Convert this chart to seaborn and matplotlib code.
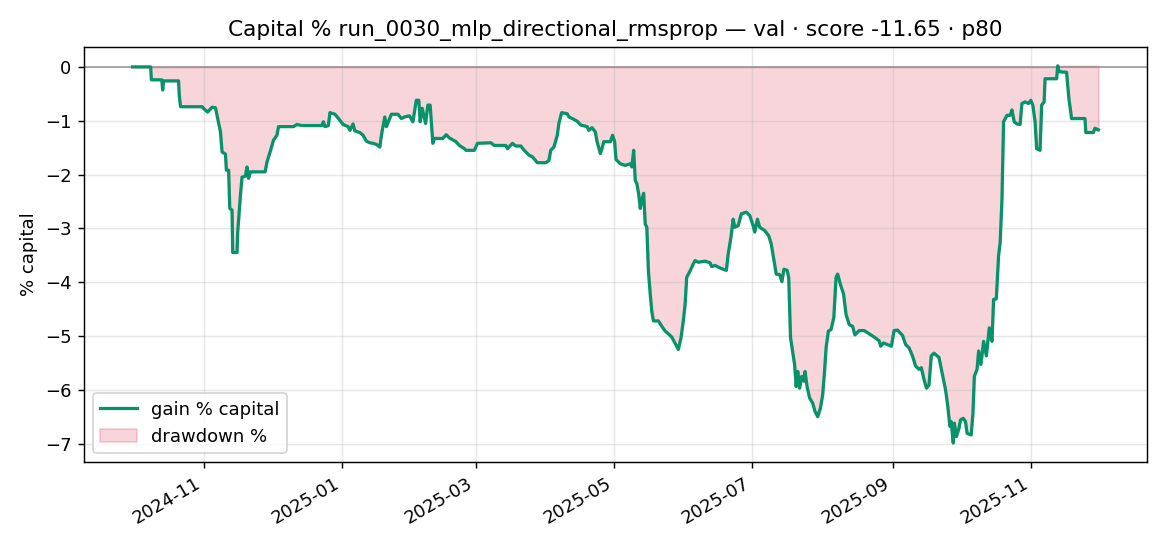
import pandas as pd
import numpy as np
import matplotlib
matplotlib.use("Agg")
import matplotlib.pyplot as plt
import seaborn as sns

# days elapsed since the first bar, and gain % capital
start = pd.Timestamp("2024-09-30 12:00")
days = [0.0, 8.0, 8.3, 12.9, 13.3, 13.7, 20.3, 20.6, 21.2, 30.7,
        31.3, 33.1, 35.1, 36.6, 37.3, 38.8, 39.5, 41.0, 41.4, 42.4,
        42.9, 43.9, 44.2, 46.1, 46.4, 47.6, 48.3, 49.8, 50.5, 51.2,
        52.0, 58.5, 59.3, 60.7, 62.2, 63.7, 64.4, 71.0, 72.5, 74.7,
        83.5, 84.2, 84.9, 86.4, 87.1, 89.3, 90.7, 92.9, 95.1, 95.9,
        97.3, 98.1, 100.3, 101.7, 103.2, 104.7, 106.1, 107.6, 109.1, 109.8,
        111.3, 112.0, 114.2, 117.1, 118.6, 120.0, 122.2, 123.7, 125.2, 126.3,
        126.9, 127.8, 129.3, 130.3, 131.3, 132.5, 133.2, 136.9, 138.4, 139.8,
        142.7, 144.2, 146.4, 147.1, 150.8, 152.2, 158.1, 159.6, 164.7, 165.4,
        167.6, 169.1, 171.3, 172.8, 174.9, 176.4, 178.6, 182.3, 183.7, 184.5,
        185.9, 187.4, 188.1, 189.3, 191.8, 192.5, 194.0, 196.2, 197.7, 200.6,
        201.3, 202.7, 204.2, 204.9, 206.4, 207.1, 207.9, 210.8, 211.8, 212.7,
        213.3, 215.2, 217.4, 219.6, 220.3, 221.1, 221.8, 222.5, 223.3, 224.0,
        224.7, 225.5, 226.2, 226.9, 227.6, 228.4, 229.1, 229.8, 232.0, 233.5,
        235.0, 236.4, 237.9, 239.4, 240.8, 242.0, 243.0, 243.8, 244.5, 246.0,
        247.4, 248.2, 249.6, 252.6, 254.8, 255.5, 257.0, 258.4, 260.6, 262.0,
        262.8, 264.0, 265.0, 265.7, 267.2, 268.6, 270.8, 272.3, 273.8, 274.5,
        275.7, 276.7, 278.9, 280.7, 281.8, 283.0, 284.0, 285.5, 286.5, 287.4,
        288.8, 289.5, 290.3, 292.1, 292.8, 293.5, 294.3, 295.3, 296.2, 296.7,
        297.6, 298.7, 300.1, 301.1, 302.3, 303.5, 304.5, 305.3, 306.0, 307.0,
        308.2, 309.4, 310.4, 311.1, 312.3, 313.7, 314.8, 316.2, 317.7, 318.7,
        320.6, 322.8, 325.0, 327.2, 329.4, 330.1, 331.3, 333.1, 334.8, 336.0,
        337.5, 339.7, 341.1, 342.6, 344.1, 345.5, 347.0, 348.0, 349.2, 350.3,
        351.4, 352.4, 353.6, 355.8, 357.2, 358.7, 359.7, 360.6, 361.2, 362.1,
        362.6, 363.5, 364.6, 365.3, 366.5, 367.5, 368.2, 370.0, 370.8, 371.4,
        372.6, 373.3, 374.3, 375.5, 376.7, 378.0, 379.2, 379.9, 381.1, 382.1,
        382.8, 383.6, 384.3, 385.8, 387.2, 388.0, 389.0, 390.2, 391.6, 392.4,
        393.8, 395.3, 396.3, 397.2, 398.2, 398.9, 400.4, 401.1, 402.2, 402.6,
        407.7, 408.2, 408.9, 412.1, 413.1, 414.3, 420.2, 420.6, 423.9, 424.6,
        426.1]
gain = [0.00, 0.00, -0.24, -0.24, -0.43, -0.26, -0.26, -0.52, -0.74, -0.74,
        -0.77, -0.84, -0.75, -0.76, -0.90, -1.21, -1.58, -1.62, -1.92, -1.92,
        -2.63, -2.66, -3.45, -3.45, -3.07, -2.39, -2.05, -2.03, -1.86, -2.07,
        -1.95, -1.95, -1.77, -1.58, -1.36, -1.27, -1.11, -1.11, -1.07, -1.09,
        -1.09, -1.02, -1.11, -1.09, -0.85, -0.88, -0.95, -1.07, -1.11, -1.18,
        -1.06, -1.19, -1.22, -1.27, -1.38, -1.41, -1.42, -1.44, -1.49, -1.27,
        -0.93, -1.11, -0.88, -0.88, -0.96, -0.93, -0.91, -1.02, -0.62, -0.62,
        -1.02, -0.77, -1.05, -0.71, -0.71, -1.42, -1.33, -1.33, -1.26, -1.32,
        -1.39, -1.46, -1.52, -1.55, -1.55, -1.42, -1.41, -1.46, -1.46, -1.52,
        -1.42, -1.47, -1.47, -1.55, -1.64, -1.67, -1.78, -1.78, -1.74, -1.55,
        -1.49, -1.27, -1.05, -0.85, -0.87, -0.93, -0.96, -1.01, -1.08, -1.11,
        -1.18, -1.13, -1.21, -1.38, -1.61, -1.52, -1.39, -1.39, -1.27, -1.39,
        -1.72, -1.80, -1.83, -1.80, -1.86, -1.55, -2.11, -2.17, -2.36, -2.63,
        -2.47, -2.35, -2.92, -2.98, -3.79, -4.22, -4.54, -4.72, -4.72, -4.82,
        -4.91, -4.96, -5.02, -5.14, -5.25, -5.03, -4.72, -4.41, -3.91, -3.79,
        -3.66, -3.60, -3.63, -3.61, -3.64, -3.71, -3.69, -3.72, -3.76, -3.78,
        -3.48, -3.17, -2.83, -2.98, -2.95, -2.73, -2.70, -2.76, -2.95, -3.07,
        -2.83, -2.98, -3.04, -3.14, -3.29, -3.60, -3.85, -3.86, -3.99, -3.76,
        -3.78, -3.91, -5.03, -5.53, -5.94, -5.66, -5.97, -5.75, -5.84, -5.66,
        -5.94, -6.15, -6.25, -6.40, -6.50, -6.34, -6.09, -5.66, -5.22, -4.91,
        -4.88, -4.66, -3.91, -3.85, -4.04, -4.22, -4.60, -4.79, -4.82, -4.98,
        -4.90, -4.90, -4.96, -5.02, -5.09, -5.19, -5.13, -5.16, -5.19, -4.90,
        -4.89, -4.99, -5.16, -5.22, -5.37, -5.56, -5.62, -5.59, -5.81, -5.97,
        -5.91, -5.37, -5.32, -5.40, -5.69, -6.00, -6.31, -6.68, -6.59, -6.99,
        -6.62, -6.87, -6.72, -6.56, -6.53, -6.59, -6.81, -6.84, -6.43, -5.75,
        -5.62, -5.28, -5.53, -5.10, -5.37, -4.85, -5.10, -4.32, -4.31, -3.51,
        -3.26, -2.45, -1.02, -0.90, -0.90, -0.80, -1.02, -1.06, -1.07, -0.68,
        -0.65, -0.68, -0.62, -0.71, -1.02, -1.52, -1.55, -0.71, -0.65, -0.22,
        -0.22, 0.02, -0.09, -0.10, -0.58, -0.96, -0.96, -1.22, -1.22, -1.14,
        -1.17]

df = pd.DataFrame({"date": start + pd.to_timedelta(days, unit="D"), "gain": gain})
df["peak"] = df["gain"].cummax()

fig, ax = plt.subplots(figsize=(9, 4.2), dpi=130)

ax.axhline(0, color="gray", lw=1, alpha=0.7)
ax.fill_between(df["date"], df["gain"], df["peak"], color="crimson", alpha=0.18,
                label="drawdown %")
sns.lineplot(data=df, x="date", y="gain", ax=ax, color="#07936a", lw=1.8,
             label="gain % capital", estimator=None)

ax.set_title("Capital % run_0030_mlp_directional_rmsprop — val · score -11.65 · p80")
ax.set_ylabel("% capital")
ax.set_xlabel("")
ax.grid(True, alpha=0.3)
fig.autofmt_xdate()
fig.subplots_adjust(left=0.072, right=0.980, top=0.914, bottom=0.154)

handles, labels = ax.get_legend_handles_labels()
order = [labels.index("gain % capital"), labels.index("drawdown %")]
ax.legend([handles[i] for i in order], [labels[i] for i in order], loc="lower left")

fig.savefig("out.png", dpi=130)
